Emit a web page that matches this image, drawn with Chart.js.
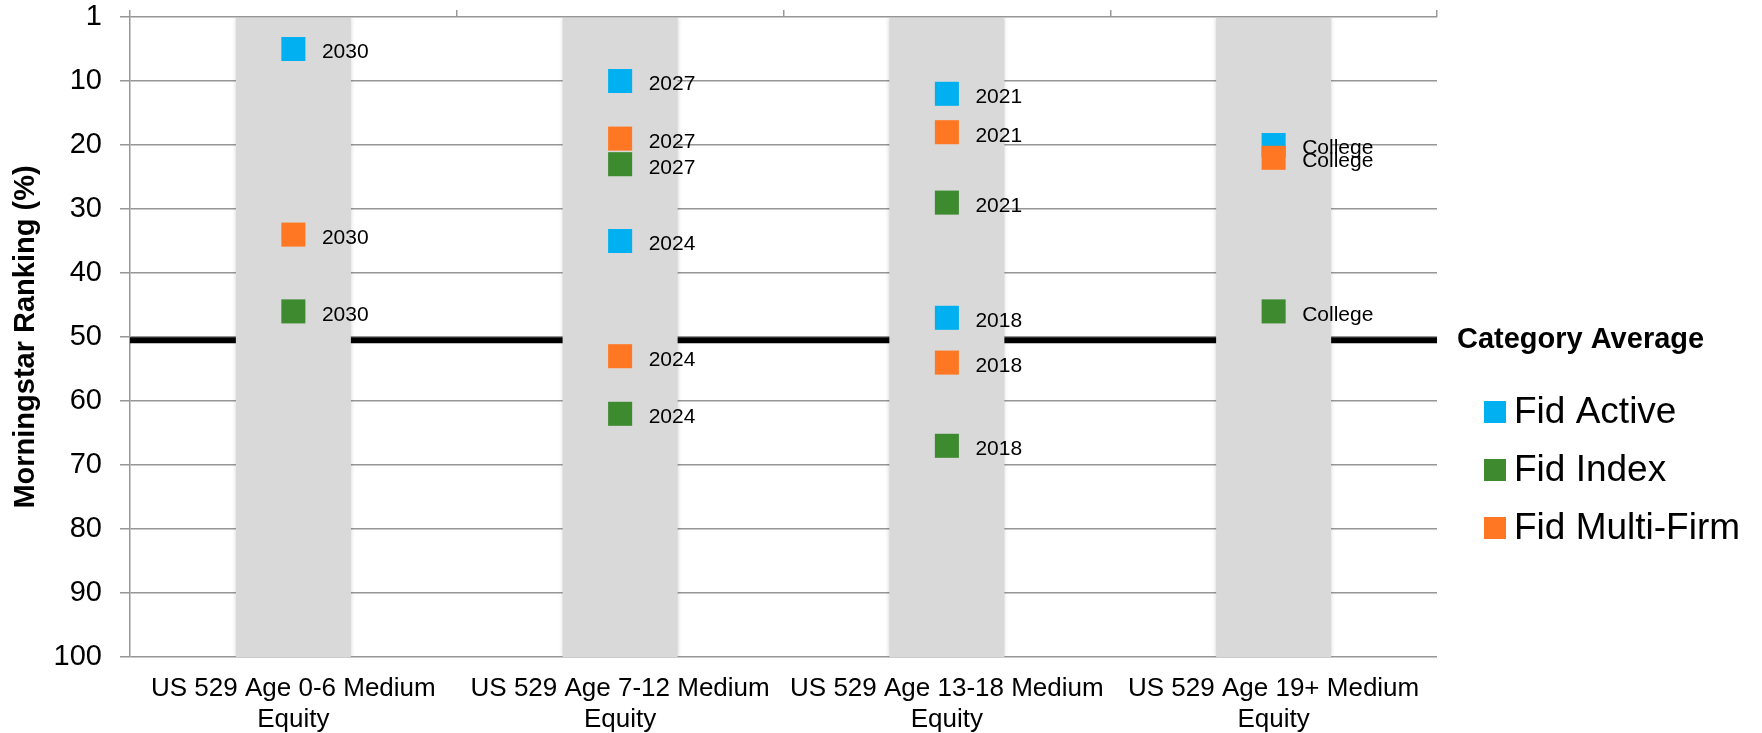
<!DOCTYPE html>
<html>
<head>
<meta charset="utf-8">
<title>Morningstar Ranking</title>
<script src="https://cdn.jsdelivr.net/npm/chart.js@4"></script>
<style>
  html, body { margin: 0; padding: 0; background: #fff; }
  #wrap { width: 1762px; height: 733px; position: relative; }
</style>
</head>
<body>
<div id="wrap"><canvas id="rank-chart"></canvas></div>
<script>
// ── Data ──
const categories = [
  ["US 529 Age 0-6 Medium", "Equity"],
  ["US 529 Age 7-12 Medium", "Equity"],
  ["US 529 Age 13-18 Medium", "Equity"],
  ["US 529 Age 19+ Medium", "Equity"]
];
const yTicks = [0, 10, 20, 30, 40, 50, 60, 70, 80, 90, 100];
const yTickLabels = ["1", "10", "20", "30", "40", "50", "60", "70", "80", "90", "100"];

const pointCats   = [0, 1, 1, 2, 2, 3];
const pointNames  = ["2030", "2027", "2024", "2021", "2018", "College"];
const activeRank  = [5, 10, 35, 12, 47, 20];
const indexRank   = [46, 23, 62, 29, 67, 46];
const multiRank   = [34, 19, 53, 18, 54, 22];

const categoryAverage = 50.5;
const bandValues = [100, 100, 100, 100];

const FONT = '"Liberation Sans", Arial, sans-serif';
const C_ACTIVE = "#00b0f0";
const C_INDEX  = "#3d8a2f";
const C_MULTI  = "#ff7722";

const toPoints = ranks => ranks.map((r, i) => ({ x: pointCats[i], y: r }));

function scatterSet(label, ranks, color, order) {
  return {
    type: "line",
    label,
    xAxisID: "xl",
    data: toPoints(ranks),
    pointNames,
    showLine: false,
    pointStyle: "rect",
    pointRadius: 17,
    pointHoverRadius: 17,
    pointBorderWidth: 0,
    backgroundColor: color,
    borderColor: color,
    order
  };
}

// ── Plugins ──
const bandShadow = {
  id: "bandShadow",
  beforeDatasetDraw(chart, args) {
    if (args.index !== 1) return;
    const ctx = chart.ctx;
    ctx.save();
    ctx.shadowColor = "rgba(0,0,0,0.18)";
    ctx.shadowBlur = 4;
  },
  afterDatasetDraw(chart, args) {
    if (args.index !== 1) return;
    chart.ctx.restore();
  }
};

const labelsAndLegend = {
  id: "labelsAndLegend",
  afterDatasetsDraw(chart) {
    const ctx = chart.ctx;
    ctx.save();
    ctx.fillStyle = "#000";
    ctx.textAlign = "left";
    ctx.textBaseline = "alphabetic";
    ctx.font = "21px " + FONT;
    chart.data.datasets.forEach((ds, i) => {
      if (!ds.pointNames) return;
      chart.getDatasetMeta(i).data.forEach((pt, j) => {
        ctx.fillText(ds.pointNames[j], pt.x + 28.5, pt.y + 9.3);
      });
    });

    // category average label at right end of the line
    const avgMeta = chart.getDatasetMeta(0);
    const end = avgMeta.data[avgMeta.data.length - 1];
    ctx.font = "bold 29px " + FONT;
    ctx.textBaseline = "middle";
    ctx.fillText(chart.data.datasets[0].label, end.x + 20, end.y);

    // legend
    const items = [
      [chart.data.datasets[2].label, C_ACTIVE],
      [chart.data.datasets[3].label, C_INDEX],
      [chart.data.datasets[4].label, C_MULTI]
    ];
    const rows = [412, 470, 528];
    ctx.font = "37px " + FONT;
    items.forEach(([text, color], k) => {
      ctx.fillStyle = color;
      ctx.fillRect(1484, rows[k] - 11, 22, 22);
      ctx.fillStyle = "#000";
      ctx.fillText(text, 1514, rows[k] + 1);
    });
    ctx.restore();
  }
};

// ── Chart ──
const ctx = document.getElementById("rank-chart");
new Chart(ctx, {
  data: {
    labels: categories,
    datasets: [
      {
        type: "line",
        label: "Category Average",
        xAxisID: "xl",
        data: [{ x: -0.5, y: categoryAverage }, { x: 3.5, y: categoryAverage }],
        borderColor: "#000",
        borderWidth: 6,
        pointRadius: 0,
        order: 4
      },
      {
        type: "bar",
        label: "band",
        data: bandValues,
        backgroundColor: "#d9d9d9",
        grouped: false,
        barPercentage: 0.352,
        categoryPercentage: 1,
        order: 3
      },
      scatterSet("Fid Active", activeRank, C_ACTIVE, 2),
      scatterSet("Fid Index", indexRank, C_INDEX, 1),
      scatterSet("Fid Multi-Firm", multiRank, C_MULTI, 0)
    ]
  },
  options: {
    responsive: true,
    maintainAspectRatio: false,
    animation: false,
    events: [],
    layout: { padding: { top: 0, left: 0, bottom: 0, right: 325 } },
    plugins: {
      legend: { display: false },
      tooltip: { enabled: false }
    },
    scales: {
      x: {
        type: "category",
        position: "bottom",
        offset: true,
        grid: { display: false, drawTicks: false },
        border: { display: false },
        ticks: {
          font: { size: 26, family: FONT },
          color: "#000",
          padding: 16,
          maxRotation: 0,
          autoSkip: false
        },
        afterFit: s => { s.height = 76; }
      },
      x2: {
        type: "category",
        position: "top",
        offset: true,
        ticks: { display: false },
        grid: {
          offset: true,
          drawOnChartArea: false,
          drawTicks: true,
          tickLength: 7,
          color: "#999",
          lineWidth: 1.5
        },
        border: { display: false },
        afterFit: s => { s.height = 17; }
      },
      xl: {
        type: "linear",
        display: false,
        min: -0.5,
        max: 3.5
      },
      y: {
        type: "linear",
        reverse: true,
        min: 0,
        max: 100,
        afterBuildTicks: s => { s.ticks = yTicks.map(v => ({ value: v })); },
        ticks: {
          font: { size: 29, family: FONT },
          color: "#000",
          padding: 18,
          callback: v => yTickLabels[yTicks.indexOf(v)]
        },
        grid: {
          color: "#969696",
          lineWidth: 1.5,
          tickLength: 10
        },
        border: { display: true, color: "#969696", width: 1.5 },
        title: {
          display: true,
          text: "Morningstar Ranking (%)",
          font: { size: 29, weight: "bold", family: FONT },
          color: "#000",
          padding: { top: 9, bottom: 0 }
        },
        afterFit: s => {
          s.width = 130;
          s.paddingTop = 0;
          s.paddingBottom = 0;
        }
      }
    }
  },
  plugins: [bandShadow, labelsAndLegend]
});
</script>
</body>
</html>
